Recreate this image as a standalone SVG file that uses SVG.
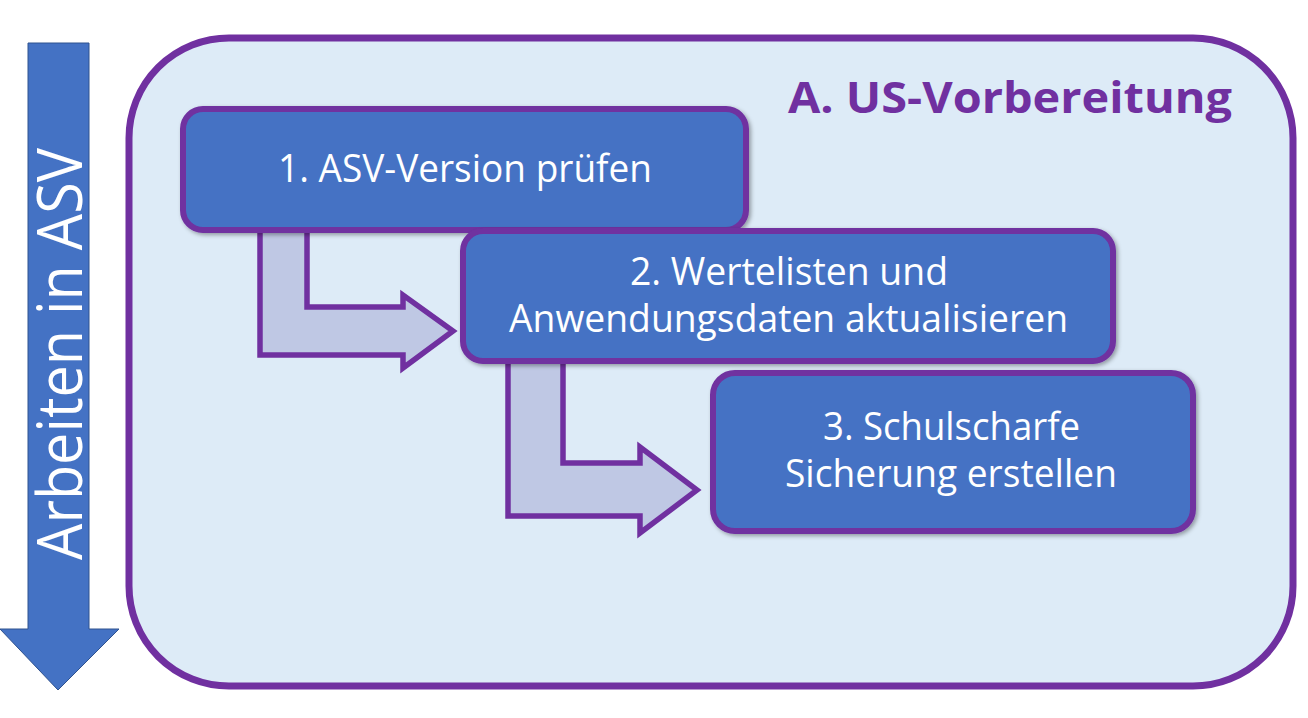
<svg xmlns="http://www.w3.org/2000/svg" width="1308" height="718" viewBox="0 0 1308 718">
  <style>
    .container { fill: #DDEBF7; stroke: #7030A0; stroke-width: 7; }
    .box { fill: #4472C4; stroke: #7030A0; stroke-width: 6; filter: url(#shadow); }
    .bent { fill: #BFC8E4; stroke: #7030A0; stroke-width: 5.5; stroke-linejoin: miter; }
    .label { font-family: "Open Sans", "Liberation Sans", sans-serif; fill: #FFFFFF; font-size: 39px; }
    .title { font-family: "Open Sans", "Liberation Sans", sans-serif; fill: #7030A0; font-size: 43px; font-weight: bold; }
    .side { font-family: "Open Sans", "Liberation Sans", sans-serif; fill: #FFFFFF; font-size: 62px; }
  </style>
  <defs>
    <filter id="shadow" x="-5%" y="-10%" width="115%" height="130%">
      <feDropShadow dx="2" dy="2" stdDeviation="2" flood-color="#000000" flood-opacity="0.35"/>
    </filter>
  </defs>
  <rect width="1308" height="718" fill="#FFFFFF"/>

  <g id="side-arrow">
    <polygon points="28,43 89,43 89,629 119,629 58,690 0,629 28,629" fill="#4472C4" stroke="#2F528F" stroke-width="1"/>
    <text class="side" transform="translate(82,354) rotate(-90)" text-anchor="middle" textLength="412" lengthAdjust="spacingAndGlyphs">Arbeiten in ASV</text>
  </g>

  <g id="container">
    <rect class="container" x="129" y="38" width="1164" height="648" rx="100" ry="100"/>
    <text class="title" x="788" y="113" textLength="444" lengthAdjust="spacingAndGlyphs">A. US-Vorbereitung</text>
  </g>

  <g id="connectors">
    <path class="bent" d="M260,228 L307,228 L307,307 L403,307 L403,295 L453,331 L403,368 L403,355 L260,355 Z"/>
    <path class="bent" d="M508,358 L563,358 L563,463 L640,463 L640,447 L697,490 L640,533 L640,516 L508,516 Z"/>
  </g>

  <g id="step1">
    <rect class="box" x="183" y="109" width="563" height="121" rx="20" ry="20"/>
    <text class="label" x="278" y="182" textLength="374" lengthAdjust="spacingAndGlyphs">1. ASV-Version prüfen</text>
  </g>

  <g id="step2">
    <rect class="box" x="463" y="231" width="650" height="130" rx="20" ry="20"/>
    <text class="label" x="630" y="285" textLength="318" lengthAdjust="spacingAndGlyphs">2. Wertelisten und</text>
    <text class="label" x="509" y="332" textLength="559" lengthAdjust="spacingAndGlyphs">Anwendungsdaten aktualisieren</text>
  </g>

  <g id="step3">
    <rect class="box" x="713" y="373" width="480" height="158" rx="22" ry="22"/>
    <text class="label" x="823" y="440" textLength="257" lengthAdjust="spacingAndGlyphs">3. Schulscharfe</text>
    <text class="label" x="785" y="487" textLength="332" lengthAdjust="spacingAndGlyphs">Sicherung erstellen</text>
  </g>
</svg>
